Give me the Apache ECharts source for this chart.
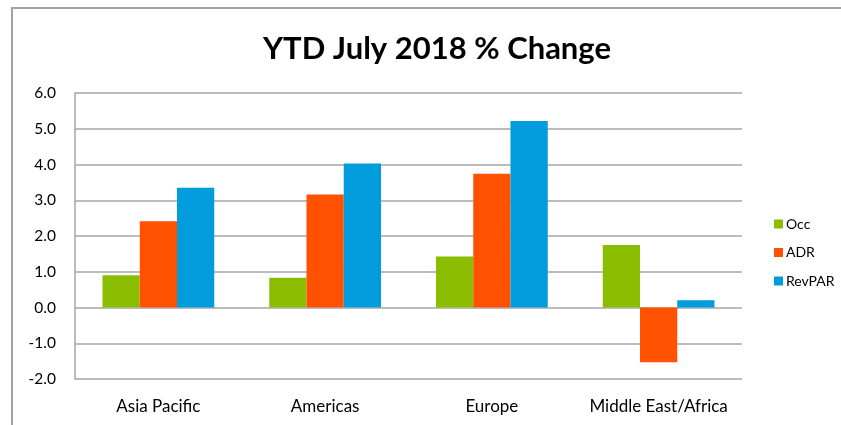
<!DOCTYPE html>
<html>
<head>
<meta charset="utf-8">
<script src="https://cdn.jsdelivr.net/npm/echarts@6/dist/echarts.min.js"></script>
<style>
    html, body { margin: 0; padding: 0; background: #fff; }
    .wrap { position: relative; width: 841px; height: 425px; }
    .echarts-box { width: 841px; height: 425px; }
    .frame {
        position: absolute; left: 11px; top: 7px; right: -5px; bottom: -5px;
        border-left: 2px solid #a0a0a0; border-top: 2px solid #a0a0a0;
        pointer-events: none;
    }
</style>
</head>
<body>
<div class="wrap">
    <div class="echarts-box" id="chart"></div>
    <div class="frame"></div>
</div>
<script>
    const categories = ['Asia Pacific', 'Americas', 'Europe', 'Middle East/Africa'];
    const occ = [0.9, 0.83, 1.43, 1.75];
    const adr = [2.41, 3.16, 3.74, -1.53];
    const revpar = [3.35, 4.03, 5.22, 0.2];
    const colorList = ['#8abd00', '#ff5100', '#009cdc'];

    const font = 'Lato, "Open Sans", sans-serif';
    const myChart = echarts.init(document.getElementById('chart'));
    const option = {
        color: colorList,
        animation: false,
        title: {
            text: 'YTD July 2018 % Change',
            left: 432,
            textAlign: 'center',
            top: 28,
            textStyle: { fontFamily: font, fontWeight: 'bold', fontSize: 31, color: '#000' }
        },
        legend: {
            orient: 'vertical',
            left: 769,
            top: 212,
            itemWidth: 9,
            itemHeight: 9,
            itemGap: 14.5,
            icon: 'rect',
            textStyle: { fontFamily: font, fontSize: 14, lineHeight: 14, color: '#000', padding: [0, 0, 0, -2] },
            data: ['Occ', 'ADR', 'RevPAR']
        },
        grid: { left: 75, right: 99, top: 93, bottom: 46 },
        xAxis: {
            type: 'category',
            data: categories,
            axisLine: { show: false },
            axisTick: { show: false },
            axisLabel: { interval: 0, hideOverlap: false, color: '#000', fontFamily: font, fontSize: 17, margin: 19 }
        },
        yAxis: {
            type: 'value',
            min: -2,
            max: 6,
            interval: 1,
            axisLine: { show: true, lineStyle: { color: '#a6a6a6', width: 1.5 } },
            axisTick: { show: false },
            splitLine: { lineStyle: { color: '#a6a6a6', width: 1.5 } },
            axisLabel: {
                color: '#000', fontFamily: font, fontSize: 15.5, margin: 19,
                formatter: v => v.toFixed(1)
            }
        },
        series: [
            { name: 'Occ', type: 'bar', data: occ, barGap: '0%', barCategoryGap: '33%' },
            { name: 'ADR', type: 'bar', data: adr, barGap: '0%', barCategoryGap: '33%' },
            { name: 'RevPAR', type: 'bar', data: revpar, barGap: '0%', barCategoryGap: '33%' }
        ]
    };
    myChart.setOption(option);
</script>
</body>
</html>
